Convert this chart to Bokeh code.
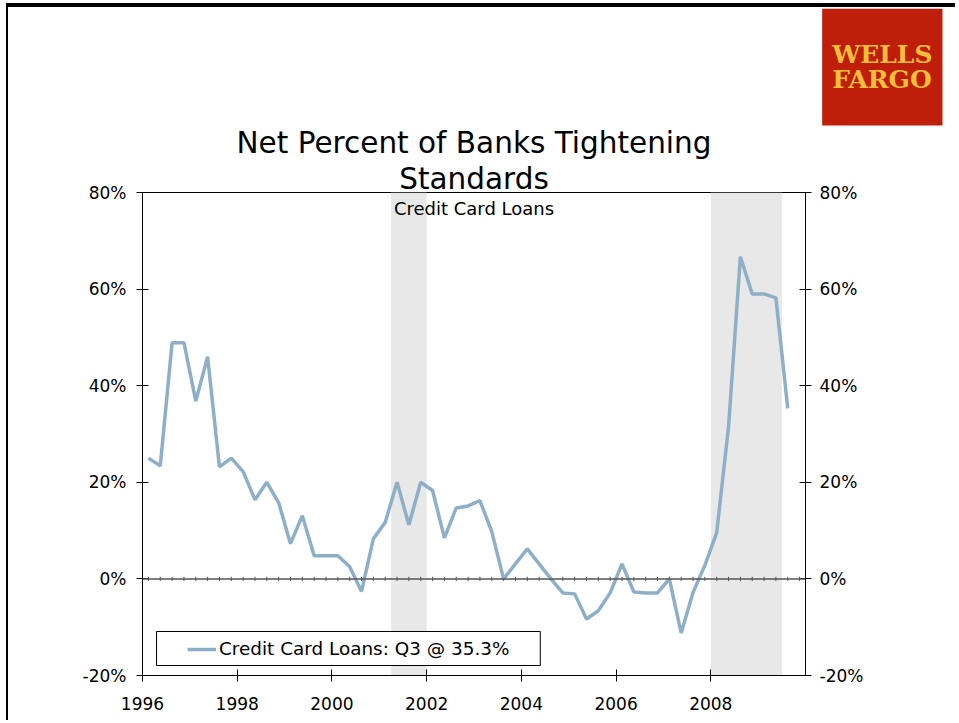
import numpy as np
from bokeh.plotting import figure
from bokeh.models import (LinearAxis, FixedTicker, PrintfTickFormatter, Range1d, Span,
                          Label, BoxAnnotation, Legend, LegendItem, ColumnDataSource, Title)
from bokeh.embed import file_html
from bokeh.resources import INLINE

# ---------------- data ----------------
years = [1996 + i // 4 for i in range(55)]
quarters = [i % 4 + 1 for i in range(55)]
credit_card = [25.0, 23.4, 48.9, 48.9, 36.8, 46.0, 23.2, 25.0, 22.2, 16.4,
               20.0, 15.8, 7.3, 13.1, 4.8, 4.8, 4.8, 2.5, -2.6, 8.3,
               11.7, 20.0, 11.2, 20.0, 18.3, 8.5, 14.7, 15.1, 16.2, 9.8,
               0.0, 3.1, 6.2, 3.1, 0.0, -2.9, -3.1, -8.3, -6.6, -2.9,
               3.1, -2.7, -2.9, -2.9, 0.0, -11.2, -2.8, 2.8, 9.6, 31.5,
               66.7, 59.0, 59.0, 58.2, 35.3]
recession_start = [2001.25, 2008.0]
recession_end = [2002.0, 2009.5]
x_ticks = [1996, 1998, 2000, 2002, 2004, 2006, 2008]
y_ticks = [-20, 0, 20, 40, 60, 80]
title_lines = ["Net Percent of Banks Tightening", "Standards"]
subtitle = "Credit Card Loans"
legend_label = "Credit Card Loans: Q3 @ 35.3%"
logo_text = "WELLS\nFARGO"

x_dates = [y + (q - 0.5) / 4.0 for y, q in zip(years, quarters)]

FONT = "DejaVu Sans"
LINE_COLOR = "#8DB0C8"

p = figure(width=955, height=720, output_backend="svg", toolbar_location=None,
           x_range=Range1d(1996, 2010), y_range=Range1d(-20, 80),
           min_border_left=142, min_border_right=150, min_border_top=192,
           min_border_bottom=45)
p.xgrid.visible = False
p.ygrid.visible = False
p.outline_line_color = "black"
p.outline_line_width = 1
p.background_fill_color = "white"
p.border_fill_color = None
p.styles = {"box-shadow": "inset 6px 3px 0 0 white, inset 8px 7px 0 0 black"}

# recession shading
rec = ColumnDataSource(dict(left=recession_start, right=recession_end,
                            top=[80] * len(recession_start), bottom=[-20] * len(recession_start)))
p.quad(left="left", right="right", top="top", bottom="bottom", source=rec,
       fill_color="#E8E8E8", line_color=None)

# zero line with quarter tick marks
p.add_layout(Span(location=0, dimension="width", line_color="#555555", line_width=1.5))
qx = np.arange(1996.125, 2010, 0.25)
p.segment(x0=qx, x1=qx, y0=-0.45, y1=0.45, line_color="#555555", line_width=1)

# series
src = ColumnDataSource(dict(x=x_dates, y=credit_card))
line_r = p.line("x", "y", source=src, line_color=LINE_COLOR, line_width=3.5)

# axes
def style_axis(ax, standoff):
    ax.axis_line_color = "black"
    ax.axis_line_width = 1
    ax.major_tick_line_color = "black"
    ax.major_tick_in = 6
    ax.major_tick_out = 6
    ax.minor_tick_line_color = None
    ax.major_label_text_font = FONT
    ax.major_label_text_font_size = "17px"
    ax.major_label_text_color = "black"
    ax.major_label_standoff = standoff

p.xaxis.ticker = FixedTicker(ticks=x_ticks)
style_axis(p.xaxis[0], 15)
p.yaxis.ticker = FixedTicker(ticks=y_ticks)
p.yaxis.formatter = PrintfTickFormatter(format="%d%%")
style_axis(p.yaxis[0], 10)
right = LinearAxis(ticker=FixedTicker(ticks=y_ticks), formatter=PrintfTickFormatter(format="%d%%"))
style_axis(right, 8)
p.add_layout(right, "right")

# titles (stacked in the panel above the frame; first added is closest to the frame)
p.add_layout(Title(text=title_lines[1], align="center", text_font=FONT, text_font_size="29.5px",
                   text_font_style="normal", text_color="black", standoff=-6), "above")
p.add_layout(Title(text=title_lines[0], align="center", text_font=FONT, text_font_size="29.5px",
                   text_font_style="normal", text_color="black", standoff=6), "above")
p.add_layout(Title(text=logo_text, align="right", offset=-137, text_font="DejaVu Serif",
                   text_font_style="bold", text_font_size="25px", text_color="#F5BE3A",
                   text_line_height=0.89, background_fill_color="#BE1E0A",
                   padding=dict(x=10, y=31), standoff=-10), "above")

# subtitle inside the frame
p.add_layout(Label(x=2003, y=76.7, text=subtitle, text_align="center",
                   text_baseline="alphabetic", text_font=FONT, text_font_size="18px",
                   text_color="black"))

# legend box + legend
p.add_layout(BoxAnnotation(left=1996.296, right=2004.40, bottom=-17.93, top=-10.89,
                           fill_color="white", fill_alpha=1, line_color="black",
                           line_alpha=1, line_width=1))
legend = Legend(items=[LegendItem(label=legend_label, renderers=[line_r])],
                location=(45, 16), padding=0, margin=0, border_line_color=None,
                background_fill_alpha=0, glyph_width=29, glyph_height=20,
                label_standoff=3, label_text_font=FONT, label_text_font_size="18.4px",
                label_text_color="black")
p.add_layout(legend)

open("out.html", "w").write(file_html(p, INLINE))
